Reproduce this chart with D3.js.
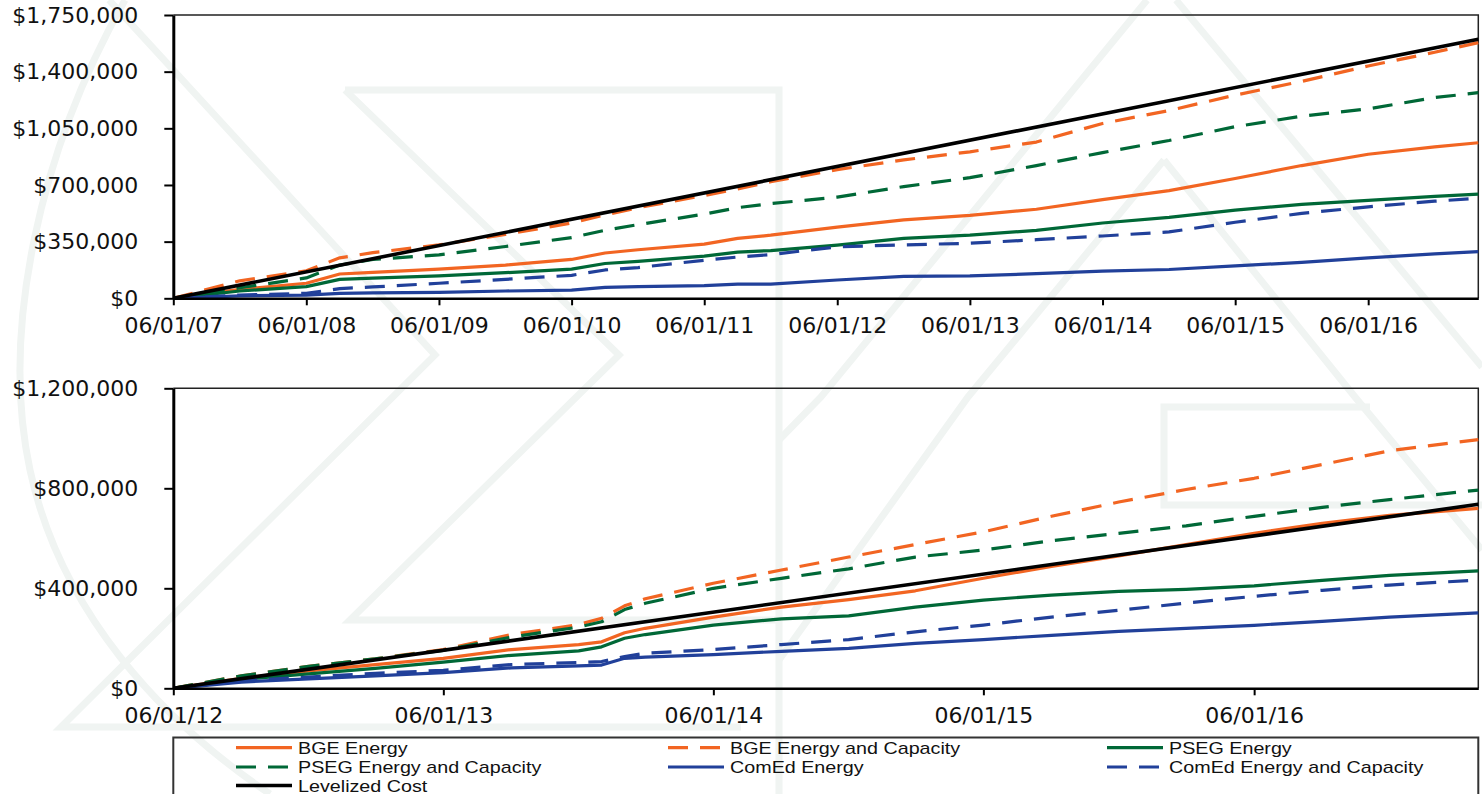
<!DOCTYPE html>
<html>
<head>
<meta charset="utf-8">
<script src="https://cdnjs.cloudflare.com/ajax/libs/d3/7.8.5/d3.min.js"></script>
<style>
  body { margin: 0; background: #fff; }
  svg { display: block; }
  .tick text { font-family: 'DejaVu Sans', sans-serif; font-size: 22px; fill: #111; }
  .legend text { font-family: 'Liberation Sans', Arial, sans-serif; font-size: 17px; fill: #111; }
</style>
</head>
<body>
<script>
// ---- data (dollars) ----
const seriesNames = ['BGE Energy', 'BGE Energy and Capacity', 'PSEG Energy',
  'PSEG Energy and Capacity', 'ComEd Energy', 'ComEd Energy and Capacity', 'Levelized Cost'];

const topDates = ['2007-06-01','2007-12-01','2008-06-01','2008-09-01','2008-12-01','2009-06-01',
  '2009-12-01','2010-06-01','2010-09-01','2010-12-01','2011-06-01','2011-09-01','2011-12-01',
  '2012-06-01','2012-12-01','2013-06-01','2013-12-01','2014-06-01','2014-12-01','2015-06-01',
  '2015-12-01','2016-06-01','2016-12-01','2017-03-31'];
const topBgeEnergy = [0,55,93,150,160,180,205,240,280,300,335,370,390,440,485,512,550,610,665,740,820,890,935,961].map(d => d * 1000);
const topBgeCapacity = [0,108,170,250,282,330,395,465,515,560,635,675,720,795,855,905,965,1080,1160,1255,1340,1435,1520,1579].map(d => d * 1000);
const topPsegEnergy = [0,45,72,117,125,138,158,180,215,228,260,285,295,328,370,390,420,465,500,545,580,605,630,644].map(d => d * 1000);
const topPsegCapacity = [0,65,126,205,240,268,320,375,420,455,520,560,585,625,690,745,820,900,975,1060,1125,1170,1240,1270].map(d => d * 1000);
const topComedEnergy = [0,15,20,31,33,37,45,51,68,72,78,87,88,113,135,138,152,168,178,200,222,250,274,288].map(d => d * 1000);
const topComedCapacity = [0,20,31,60,70,93,117,142,175,190,235,255,270,318,330,340,362,385,410,470,525,565,600,618].map(d => d * 1000);
const topLevelizedDates = ['2007-06-01', '2017-03-31'];
const topLevelized = [0, 1600000];

const bottomDates = ['2012-06-01','2012-09-01','2012-12-01','2013-03-01','2013-06-01','2013-09-01',
  '2013-12-01','2014-01-01','2014-02-01','2014-03-01','2014-06-01','2014-09-01','2014-12-01',
  '2015-03-01','2015-06-01','2015-09-01','2015-12-01','2016-03-01','2016-06-01','2016-09-01',
  '2016-12-01','2017-03-31'];
const bottomBgeEnergy = [0,40,70,95,120,155,175,186,222,240,285,325,355,390,440,488,530,575,620,660,692,720].map(d => d * 1000);
const bottomBgeCapacity = [0,50,88,118,155,215,255,280,330,358,420,473,525,575,626,688,745,795,840,895,950,995].map(d => d * 1000);
const bottomPsegEnergy = [0,35,58,80,105,132,150,166,200,215,253,278,290,325,353,373,388,396,410,432,452,470].map(d => d * 1000);
const bottomPsegCapacity = [0,50,88,118,152,205,245,266,315,340,400,440,478,525,553,590,620,650,688,724,755,793].map(d => d * 1000);
const bottomComedEnergy = [0,25,38,50,63,82,90,93,120,125,135,148,160,180,195,212,228,240,252,268,285,302].map(d => d * 1000);
const bottomComedCapacity = [0,30,45,60,72,95,103,107,127,140,155,175,195,226,253,285,312,341,368,392,413,433].map(d => d * 1000);
const bottomLevelizedDates = ['2012-06-01', '2017-03-31'];
const bottomLevelized = [0, 736000];

const topXTicks = ['06/01/07','06/01/08','06/01/09','06/01/10','06/01/11','06/01/12','06/01/13','06/01/14','06/01/15','06/01/16'];
const topYTicks = [0, 350000, 700000, 1050000, 1400000, 1750000];
const bottomXTicks = ['06/01/12','06/01/13','06/01/14','06/01/15','06/01/16'];
const bottomYTicks = [0, 400000, 800000, 1200000];

// ---- styles ----
const colors = ['#f26522', '#f26522', '#006837', '#006837', '#21409a', '#21409a', '#000'];
const dashes = [null, '20,12', null, '20,12', null, '20,12', null];
const widths = [3.2, 3.2, 3.2, 3.2, 3.2, 3.2, 3.6];

const W = 1482, H = 794;
const left = 173.3, right = 1478.3;
const parseISO = d3.timeParse('%Y-%m-%d');
const parseTick = d3.timeParse('%m/%d/%y');
const fmtTick = d3.timeFormat('%m/%d/%y');
const fmtMoney = d => '$' + d3.format(',')(d);

const svg = d3.select('body').append('svg')
  .attr('width', W)
  .attr('height', H);

// faint background watermark
const wm = svg.append('g')
  .attr('fill', 'none')
  .attr('stroke', '#f0f4f2')
  .attr('stroke-width', 7);
[
  'M109,0 L435,355 L61,727 L741,727',
  'M345,90 L779,90 L779,794',
  'M345,90 L619,355 L350,620 L779,620',
  'M1147,0 L821,397 L779,440',
  'M1176,0 L1482,367',
  'M1164,160 L968,397 L779,660',
  'M1164,160 L1355,397 L1482,550',
  'M1370,407 L1164,407 L1164,505 L1482,505',
  'M125,0 C40,150 0,330 30,470 C60,610 160,720 270,794'
].forEach(d => wm.append('path').attr('d', d));

function drawPanel(cfg) {
  const x = d3.scaleTime()
    .domain([parseISO(cfg.start), parseISO('2017-03-31')])
    .range([left, right]);
  const y = d3.scaleLinear()
    .domain([0, cfg.yMax])
    .range([cfg.bottom, cfg.top]);

  // thin top/right frame
  svg.append('path')
    .attr('d', `M${left},${cfg.top}H${right}V${cfg.bottom}`)
    .attr('fill', 'none')
    .attr('stroke', '#222')
    .attr('stroke-width', 1.5);

  const line = d3.line()
    .x(d => x(d.date))
    .y(d => y(d.value));

  cfg.series.forEach((s, i) => {
    const pts = s.values.map((v, j) => ({ date: parseISO(s.dates[j]), value: v }));
    svg.append('path')
      .datum(pts)
      .attr('fill', 'none')
      .attr('stroke', colors[i])
      .attr('stroke-width', widths[i])
      .attr('stroke-dasharray', dashes[i])
      .attr('stroke-linejoin', 'round')
      .attr('d', line);
  });

  const gy = svg.append('g')
    .attr('transform', `translate(${left},0)`)
    .call(d3.axisLeft(y).tickValues(cfg.yTicks).tickSize(9).tickPadding(26)
      .tickSizeOuter(0).tickFormat(fmtMoney));
  gy.select('.domain').attr('stroke', '#000').attr('stroke-width', 3);
  gy.selectAll('.tick line').attr('stroke', '#000').attr('stroke-width', 2);

  const gx = svg.append('g')
    .attr('transform', `translate(0,${cfg.bottom})`)
    .call(d3.axisBottom(x).tickValues(cfg.xTicks.map(parseTick)).tickSize(7).tickPadding(12)
      .tickSizeOuter(0).tickFormat(fmtTick));
  gx.select('.domain').attr('stroke', '#000').attr('stroke-width', 2.5);
  gx.selectAll('.tick line').attr('stroke', '#000').attr('stroke-width', 2);
}

drawPanel({
  start: '2007-06-01', top: 15, bottom: 298.3, yMax: 1750000,
  yTicks: topYTicks, xTicks: topXTicks,
  series: [
    { dates: topDates, values: topBgeEnergy },
    { dates: topDates, values: topBgeCapacity },
    { dates: topDates, values: topPsegEnergy },
    { dates: topDates, values: topPsegCapacity },
    { dates: topDates, values: topComedEnergy },
    { dates: topDates, values: topComedCapacity },
    { dates: topLevelizedDates, values: topLevelized }
  ]
});

drawPanel({
  start: '2012-06-01', top: 388.3, bottom: 688.3, yMax: 1200000,
  yTicks: bottomYTicks, xTicks: bottomXTicks,
  series: [
    { dates: bottomDates, values: bottomBgeEnergy },
    { dates: bottomDates, values: bottomBgeCapacity },
    { dates: bottomDates, values: bottomPsegEnergy },
    { dates: bottomDates, values: bottomPsegCapacity },
    { dates: bottomDates, values: bottomComedEnergy },
    { dates: bottomDates, values: bottomComedCapacity },
    { dates: bottomLevelizedDates, values: bottomLevelized }
  ]
});

// legend
const legend = svg.append('g').attr('class', 'legend');
legend.append('rect')
  .attr('x', left)
  .attr('y', 737.5)
  .attr('width', right - left)
  .attr('height', 100)
  .attr('fill', 'none')
  .attr('stroke', '#333')
  .attr('stroke-width', 2);

const colX = [236, 668, 1107];
const rowY = [747.7, 767, 785.5];
seriesNames.forEach((name, i) => {
  const cx = colX[i % 3], cy = rowY[Math.floor(i / 3)];
  legend.append('line')
    .attr('x1', cx).attr('x2', cx + 56)
    .attr('y1', cy).attr('y2', cy)
    .attr('stroke', colors[i])
    .attr('stroke-width', widths[i])
    .attr('stroke-dasharray', dashes[i]);
  legend.append('text')
    .attr('transform', `translate(${cx + 62},${cy + 6}) scale(1.16,1)`)
    .text(name);
});
</script>
</body>
</html>
